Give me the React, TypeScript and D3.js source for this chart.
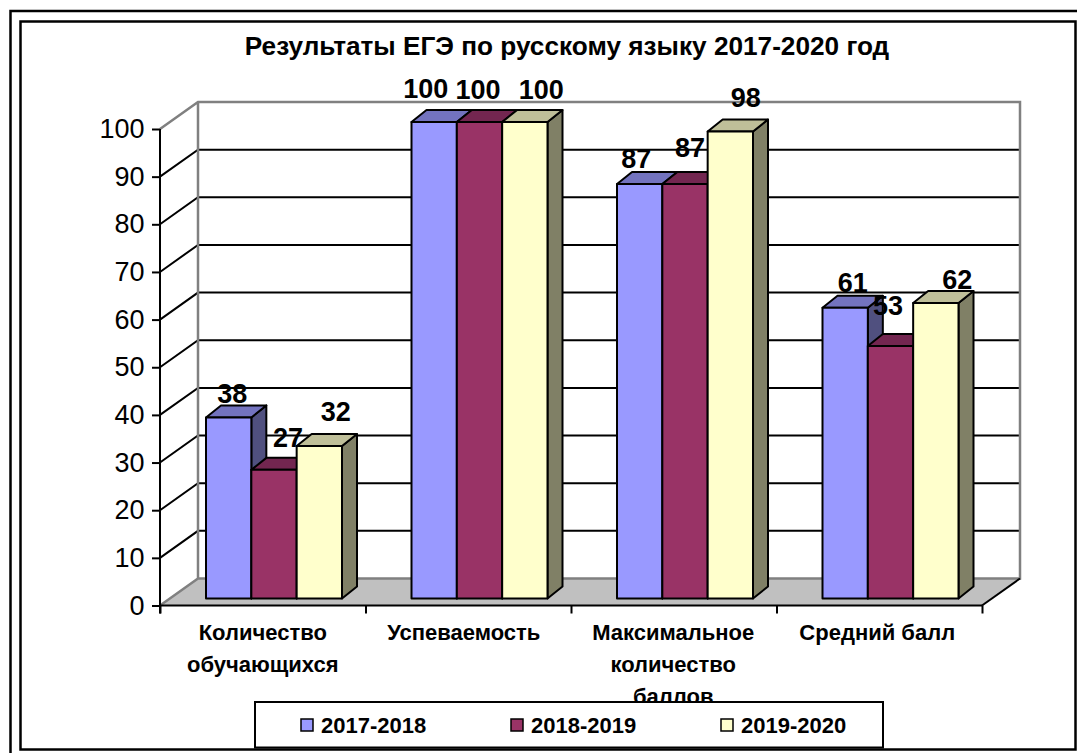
import React, { useEffect, useRef } from 'react'
import * as d3 from 'd3'

const title = 'Результаты ЕГЭ по русскому языку 2017-2020 год'
const categories = ['Количество обучающихся', 'Успеваемость', 'Максимальное количество баллов', 'Средний балл']
const categoryLines = [['Количество', 'обучающихся'], ['Успеваемость'], ['Максимальное', 'количество', 'баллов'], ['Средний балл']]
const seriesNames = ['2017-2018', '2018-2019', '2019-2020']
const values2017 = [38, 100, 87, 61]
const values2018 = [27, 100, 87, 53]
const values2019 = [32, 100, 98, 62]
const seriesValues = [values2017, values2018, values2019]
const yTicks = [0, 10, 20, 30, 40, 50, 60, 70, 80, 90, 100]

const frontColors = ['#9999ff', '#993366', '#ffffcc']
const topColors = ['#7373bf', '#732650', '#bfbf99']
const sideColors = ['#50507f', '#4d1a33', '#808066']

// the labels were dragged around by hand in the original, [dx, dy] per series then category
const labelNudge = [
  [[-4, 0], [-16, -10], [-11, -2], [0, -2]],
  [[6.5, -9], [-9, -9], [-2.5, -13], [-10, -17]],
  [[9, -11], [9, -9], [8, -10.5], [14, 0]],
]
// small shifts of the category captions
const captionShift = [0, -4.5, -0.5, -2]

const FONT = '"Liberation Sans", Arial, sans-serif'
const depth = { x: 38, y: 27 }
const barDepth = { x: 15, y: 12 }

function App() {
  const ref = useRef<SVGSVGElement>(null)

  useEffect(() => {
    const svg = d3.select(ref.current)
    svg.selectAll('*').remove()

    // frame
    const frame = svg.append('g').attr('fill', 'none').attr('stroke', '#000').attr('stroke-width', 2.5)
    frame.append('path').attr('d', 'M10.5,753V11H1077')
    frame.append('rect').attr('x', 20.5).attr('y', 21.5).attr('width', 1055).attr('height', 728)

    svg.append('text')
      .attr('x', 567).attr('y', 55)
      .attr('text-anchor', 'middle')
      .attr('font-family', FONT).attr('font-weight', 'bold').attr('font-size', 26.2)
      .text(title)

    const left = 160
    const right = 982
    const y = d3.scaleLinear().domain([0, 100]).range([605.5, 129])
    const x = d3.scaleBand<string>().domain(categories).range([left, right])
    const xInner = d3.scaleBand<string>().domain(seriesNames).range([46, 182])
    const yBack = (v: number) => y(v) - depth.y
    const yBar = (v: number) => y(v) - 7

    // floor and walls
    svg.append('path')
      .attr('fill', '#c0c0c0')
      .attr('d', `M${left},${y(0)}L${left + depth.x},${yBack(0)}H${right + depth.x}L${right},${y(0)}Z`)

    const grid = svg.append('g').attr('fill', 'none')
    yTicks.filter(t => t > 0 && t < 100).forEach(t => {
      grid.append('path')
        .attr('stroke', '#000').attr('stroke-width', 2)
        .attr('d', `M${left},${y(t)}L${left + depth.x},${yBack(t)}H${right + depth.x}`)
    })
    grid.append('path')
      .attr('stroke', '#808080').attr('stroke-width', 2.5)
      .attr('d', `M${left},${y(0)}L${left + depth.x},${yBack(0)}H${right + depth.x}V${yBack(100)}H${left + depth.x}L${left},${y(100)}M${left + depth.x},${yBack(100)}V${yBack(0)}`)
    grid.append('path')
      .attr('stroke', '#000').attr('stroke-width', 2)
      .attr('d', `M${right},${y(0)}L${right + depth.x},${yBack(0)}`)

    // bars, left to right so the later ones cover the earlier ones
    const bars = svg.append('g').attr('stroke', '#000').attr('stroke-width', 2).attr('stroke-linejoin', 'round')
    categories.forEach((cat, c) => {
      seriesNames.forEach((name, s) => {
        const v = seriesValues[s][c]
        const x0 = x(cat)! + xInner(name)!
        const x1 = x0 + xInner.bandwidth()
        const top = yBar(v)
        const bottom = yBar(0)
        bars.append('path').attr('fill', sideColors[s])
          .attr('d', `M${x1},${top}l${barDepth.x},${-barDepth.y}V${bottom - barDepth.y}L${x1},${bottom}Z`)
        bars.append('path').attr('fill', topColors[s])
          .attr('d', `M${x0},${top}l${barDepth.x},${-barDepth.y}H${x1 + barDepth.x}L${x1},${top}Z`)
        bars.append('rect').attr('fill', frontColors[s])
          .attr('x', x0).attr('y', top).attr('width', x1 - x0).attr('height', bottom - top)
      })
    })

    // axes
    const yAxis = svg.append('g')
      .attr('transform', `translate(${left},0)`)
      .call(d3.axisLeft(y).tickValues(yTicks).tickSize(8).tickPadding(7.5))
    const xAxis = svg.append('g')
      .attr('transform', `translate(0,${y(0)})`)
      .call(d3.axisBottom(d3.scaleLinear().domain([0, 4]).range([left, right])).ticks(4).tickSize(8).tickFormat(() => ''))
    ;[yAxis, xAxis].forEach(a => {
      a.selectAll('path,line').attr('stroke', '#000').attr('stroke-width', 2)
      a.select('.domain').attr('d', a === yAxis ? `M0,${y(0) + 8}V${y(100)}` : `M${left},0H${right}`)
    })
    yAxis.selectAll('text').attr('font-family', FONT).attr('font-size', 27).attr('fill', '#000')

    categories.forEach((cat, c) => {
      categoryLines[c].forEach((line, i) => {
        svg.append('text')
          .attr('x', x(cat)! + x.bandwidth() / 2 + captionShift[c])
          .attr('y', 640 + i * 32)
          .attr('text-anchor', 'middle')
          .attr('font-family', FONT).attr('font-weight', 'bold').attr('font-size', 22)
          .text(line)
      })
    })

    // data labels
    categories.forEach((cat, c) => {
      seriesNames.forEach((name, s) => {
        const v = seriesValues[s][c]
        const [dx, dy] = labelNudge[s][c]
        svg.append('text')
          .attr('x', x(cat)! + xInner(name)! + xInner.bandwidth() / 2 + 7.5 + dx)
          .attr('y', yBar(v) - 24 + dy)
          .attr('dy', '0.36em')
          .attr('text-anchor', 'middle')
          .attr('font-family', FONT).attr('font-weight', 'bold').attr('font-size', 27)
          .text(v)
      })
    })

    // legend
    const legend = svg.append('g')
    legend.append('rect')
      .attr('x', 255).attr('y', 702).attr('width', 628).attr('height', 45.5)
      .attr('fill', '#fff').attr('stroke', '#000').attr('stroke-width', 2)
    const legendX = d3.scalePoint<string>().domain(seriesNames).range([301, 721])
    seriesNames.forEach((name, s) => {
      const lx = legendX(name)!
      legend.append('rect')
        .attr('x', lx).attr('y', 719).attr('width', 12).attr('height', 12)
        .attr('fill', frontColors[s]).attr('stroke', '#000').attr('stroke-width', 1.5)
      legend.append('text')
        .attr('x', lx + 20).attr('y', 733)
        .attr('font-family', FONT).attr('font-weight', 'bold').attr('font-size', 22)
        .text(name)
    })
  }, [])

  return (
    <svg
      ref={ref}
      width={1077}
      height={753}
      style={{ position: 'absolute', left: 0, top: 0, background: '#fff' }}
    />
  )
}

export default App
